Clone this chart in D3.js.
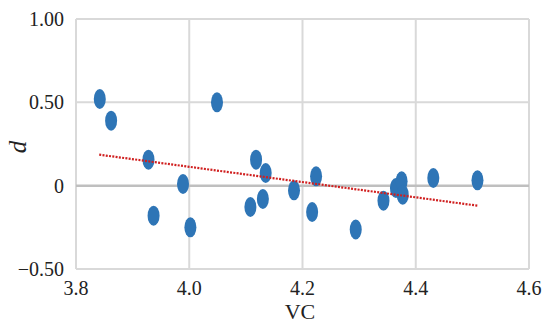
<!DOCTYPE html>
<html>
<head>
    <script src="https://d3js.org/d3.v7.min.js"></script>
    <style>
        body { margin: 0; padding: 0; background: white; }
        text { font-family: "Liberation Serif", "DejaVu Serif", serif; fill: #222; }
        .tick-label { font-size: 20px; }
        .axis-title { font-size: 22px; }
    </style>
</head>
<body>
    <svg id="chart" width="546" height="324"></svg>
    <script>
        // values
        const vc = [3.842, 3.862, 3.928, 3.937, 3.989, 4.002, 4.049, 4.108, 4.118, 4.130,
                    4.135, 4.185, 4.217, 4.224, 4.294, 4.343, 4.365, 4.375, 4.377, 4.431, 4.509];
        const dVals = [0.52, 0.39, 0.156, -0.18, 0.01, -0.25, 0.50, -0.128, 0.156, -0.08,
                       0.076, -0.028, -0.158, 0.056, -0.263, -0.09, -0.014, 0.026, -0.054, 0.046, 0.032];
        const trendX = [3.841, 4.509];
        const trendY = [0.186, -0.120];
        const xTicks = [3.8, 4.0, 4.2, 4.4, 4.6];
        const yTicks = [1.0, 0.5, 0, -0.5];
        const yTickLabels = ['1.00', '0.50', '0', '\u22120.50'];

        const svg = d3.select('#chart');
        const plot = { left: 76, right: 529, top: 19, bottom: 269 };

        const x = d3.scaleLinear().domain([3.8, 4.6]).range([plot.left, plot.right]);
        const y = d3.scaleLinear().domain([-0.5, 1.0]).range([plot.bottom, plot.top]);

        // gridlines
        svg.append('g').selectAll('line')
            .data(xTicks)
            .join('line')
            .attr('x1', d => x(d)).attr('x2', d => x(d))
            .attr('y1', plot.top).attr('y2', plot.bottom)
            .attr('stroke', '#d9d9d9').attr('stroke-width', 2);

        svg.append('g').selectAll('line')
            .data(yTicks)
            .join('line')
            .attr('x1', plot.left).attr('x2', plot.right)
            .attr('y1', d => y(d)).attr('y2', d => y(d))
            .attr('stroke', d => d === 0 ? '#bfbfbf' : '#d9d9d9')
            .attr('stroke-width', d => d === 0 ? 2.5 : 2);

        // tick labels
        svg.append('g').selectAll('text')
            .data(yTicks)
            .join('text')
            .attr('class', 'tick-label')
            .attr('x', plot.left - 12)
            .attr('y', d => y(d))
            .attr('dy', '0.35em')
            .attr('text-anchor', 'end')
            .text((d, i) => yTickLabels[i]);

        svg.append('g').selectAll('text')
            .data(xTicks)
            .join('text')
            .attr('class', 'tick-label')
            .attr('x', d => x(d))
            .attr('y', 295)
            .attr('text-anchor', 'middle')
            .text(d => d.toFixed(1));

        // axis titles
        svg.append('text')
            .attr('class', 'axis-title')
            .attr('x', 300)
            .attr('y', 319)
            .attr('text-anchor', 'middle')
            .text('VC');

        svg.append('text')
            .attr('class', 'axis-title')
            .attr('transform', 'translate(26, 147) rotate(-90)')
            .attr('text-anchor', 'middle')
            .style('font-style', 'italic')
            .style('font-size', '25px')
            .text('d');

        // points
        svg.append('g').selectAll('ellipse')
            .data(vc)
            .join('ellipse')
            .attr('cx', d => x(d))
            .attr('cy', (d, i) => y(dVals[i]))
            .attr('rx', 6)
            .attr('ry', 10)
            .attr('fill', '#2e75b6');

        // trend line
        svg.append('line')
            .attr('x1', x(trendX[0])).attr('x2', x(trendX[1]))
            .attr('y1', y(trendY[0])).attr('y2', y(trendY[1]))
            .attr('stroke', '#d02020')
            .attr('stroke-width', 2.2)
            .attr('stroke-dasharray', '2,1.3');
    </script>
</body>
</html>
